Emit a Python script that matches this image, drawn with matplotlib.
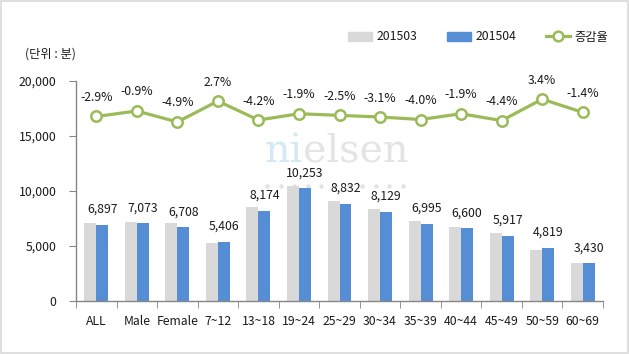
import matplotlib
matplotlib.use("Agg")
import matplotlib.pyplot as plt
from matplotlib.patches import Rectangle, Patch
from matplotlib.lines import Line2D
import numpy as np

plt.rcParams['font.family'] = ['Noto Sans CJK KR', 'DejaVu Sans']

categories = ["ALL", "Male", "Female", "7~12", "13~18", "19~24", "25~29",
              "30~34", "35~39", "40~44", "45~49", "50~59", "60~69"]
s201503 = [7103, 7137, 7054, 5264, 8532, 10452, 9058, 8389, 7286, 6728, 6189, 4661, 3479]
s201504 = [6897, 7073, 6708, 5406, 8174, 10253, 8832, 8129, 6995, 6600, 5917, 4819, 3430]
rate = [-2.9, -0.9, -4.9, 2.7, -4.2, -1.9, -2.5, -3.1, -4.0, -1.9, -4.4, 3.4, -1.4]
yticks = [0, 5000, 10000, 15000, 20000]

GRAY = "#d9d9d9"
BLUE = "#558ed5"
GREEN = "#9bbb59"
AXC = "#868686"
TXT = "#1a1a1a"
FS = 8.8

fig = plt.figure(figsize=(6.29, 3.54), dpi=100)
ax = fig.add_axes([76/629, 1-301/354, (603-76)/629, (301-81)/354])
ax.patch.set_visible(False)

x = np.arange(len(categories))
w = 0.295
ax.bar(x - w/2, s201503, width=w, color=GRAY, zorder=2)
ax.bar(x + w/2, s201504, width=w, color=BLUE, zorder=2)
for xi, v in zip(x, s201504):
    ax.annotate(f"{v:,}", (xi + w/2, v), xytext=(0, 6.5), textcoords="offset points",
                ha="center", va="bottom", fontsize=FS, color=TXT, zorder=3)

ax.set_xlim(-0.5, len(categories) - 0.5)
ax.set_ylim(0, 20000)
ax.set_yticks(yticks)
ax.set_yticklabels([f"{t:,}" for t in yticks], fontsize=FS, color=TXT)
ax.set_xticks(x)
ax.set_xticklabels(categories, fontsize=FS, color=TXT)
ax.set_xticks(np.arange(-0.5, len(categories)), minor=True)
ax.tick_params(axis="x", which="major", length=0, pad=10)
ax.tick_params(axis="x", which="minor", length=5, color=AXC, direction="out")
ax.tick_params(axis="y", length=5, color=AXC, pad=9, direction="out")
for s in ["top", "right"]:
    ax.spines[s].set_visible(False)
for s in ["left", "bottom"]:
    ax.spines[s].set_color(AXC)
    ax.spines[s].set_linewidth(1)

ax2 = ax.twinx()
ax2.set_ylim(-70, 10)
ax2.plot(x, rate, color=GREEN, lw=2.3, marker="o", ms=7.5, mfc="white",
         mec=GREEN, mew=1.8, zorder=4)
for xi, r in zip(x, rate):
    ax2.annotate(f"{r:.1f}%", (xi, r), xytext=(0, 9), textcoords="offset points",
                 ha="center", va="bottom", fontsize=FS, color=TXT)
ax2.set_yticks([])
for s in ax2.spines.values():
    s.set_visible(False)

# watermark (decorative)
wm1 = ax.text(265/629, 1-170/354, "ni", transform=fig.transFigure, family="DejaVu Serif",
              fontsize=28.5, color="#d3e9f3", ha="left", va="bottom", zorder=0.6)
ax.annotate("elsen", xy=(1, 0), xycoords=wm1, family="DejaVu Serif",
            fontsize=28.5, color="#e4e4e4", ha="left", va="bottom", zorder=0.5)
dots = Line2D(np.linspace(267/629, 403/629, 11), np.full(11, 1-186/354),
              transform=fig.transFigure, ls="none", marker="o", ms=3.2,
              mfc="#e2e2e2", mec="none", zorder=0.5)
ax.add_artist(dots)

fig.text(25/629, 1-54/354, "(단위 : 분)", fontsize=FS, color=TXT, ha="left", va="center")

handles = [Patch(color=GRAY), Patch(color=BLUE),
           Line2D([], [], color=GREEN, lw=2.3, marker="o", ms=7, mfc="white", mec=GREEN, mew=1.8)]
fig.legend(handles, ["201503", "201504", "증감율"], loc="center", bbox_to_anchor=(478/629, 1-37/354),
           ncol=3, frameon=False, fontsize=FS, handlelength=2.0, handletextpad=0.35,
           columnspacing=2.4, labelcolor=TXT)

fig.patches.append(Rectangle((0.001, 0.002), 0.997, 0.995, transform=fig.transFigure,
                             fill=False, edgecolor="#d9d9d9", lw=1.2))

fig.savefig("out.png", dpi=100)
